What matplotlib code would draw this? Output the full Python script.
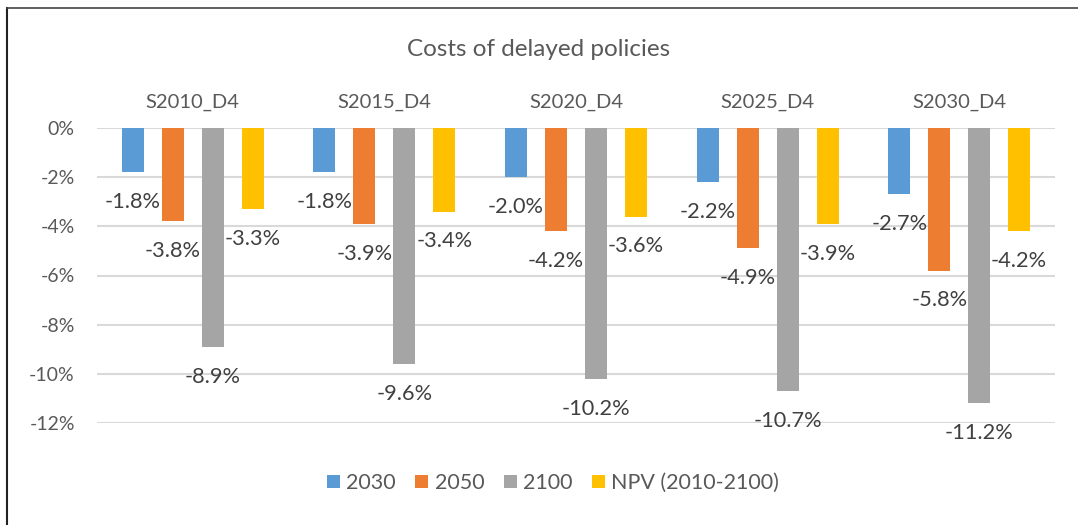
import numpy as np
import matplotlib.pyplot as plt
from matplotlib.lines import Line2D

# 数据（百分比）
scenarios = ['S2010_D4', 'S2015_D4', 'S2020_D4', 'S2025_D4', 'S2030_D4']
series_names = ['2030', '2050', '2100', 'NPV (2010-2100)']
cost_2030 = [-1.8, -1.8, -2.0, -2.2, -2.7]
cost_2050 = [-3.8, -3.9, -4.2, -4.9, -5.8]
cost_2100 = [-8.9, -9.6, -10.2, -10.7, -11.2]
cost_npv = [-3.3, -3.4, -3.6, -3.9, -4.2]
yticks = [0, -2, -4, -6, -8, -10, -12]

colors = ['#5B9BD5', '#ED7D31', '#A5A5A5', '#FFC000']
text_color = '#595959'

plt.rcParams['font.family'] = ['Lato', 'DejaVu Sans']

fig = plt.figure(figsize=(10.78, 5.25), dpi=100)
ax = fig.add_axes([97 / 1078, 1 - 423 / 525, (1055 - 97) / 1078, (423 - 128) / 525])

x = np.arange(len(scenarios))
width = 0.115
offsets = [-0.313, -0.104, 0.104, 0.313]
all_series = [cost_2030, cost_2050, cost_2100, cost_npv]

for vals, off, col, name in zip(all_series, offsets, colors, series_names):
    bars = ax.bar(x + off, vals, width, color=col, label=name, zorder=3)
    for b, v in zip(bars, vals):
        ax.annotate(f'{v:.1f}%', (b.get_x() + b.get_width() / 2, v),
                    xytext=(0, -21.5), textcoords='offset points',
                    ha='center', va='center', fontsize=15.7, color='#404040',
                    annotation_clip=False, zorder=4)

ax.set_xlim(-0.5, len(scenarios) - 0.5)
ax.set_ylim(-12, 0)
ax.set_yticks(yticks)
ax.set_yticklabels([f'{t}%' for t in yticks], fontsize=14, color=text_color)
ax.yaxis.grid(True, color='#D9D9D9', linewidth=1.5, zorder=0)
ax.tick_params(axis='y', length=0, pad=16)

ax.xaxis.tick_top()
ax.set_xticks(x)
ax.set_xticklabels(scenarios, fontsize=14.5, color=text_color)
ax.tick_params(axis='x', length=0, pad=12)

for s in ax.spines.values():
    s.set_visible(False)

fig.text(0.5, 1 - 50 / 525, 'Costs of delayed policies', ha='center', va='center',
         fontsize=17.5, color=text_color)

fig.legend(loc='center', bbox_to_anchor=(553 / 1078, 1 - 483 / 525), ncol=4,
           frameon=False, fontsize=15.5, handlelength=0.6, handleheight=0.6,
           handletextpad=0.3, columnspacing=0.9, labelcolor=text_color)

# 边框（截图只保留左边和上边）
fig.add_artist(Line2D([7 / 1078, 7 / 1078], [0, 1 - 8 / 525], color='#222222',
                      linewidth=1.5, transform=fig.transFigure))
fig.add_artist(Line2D([7 / 1078, 1], [1 - 8 / 525, 1 - 8 / 525], color='#444444',
                      linewidth=1.2, transform=fig.transFigure))

fig.savefig('out.png', dpi=100)
